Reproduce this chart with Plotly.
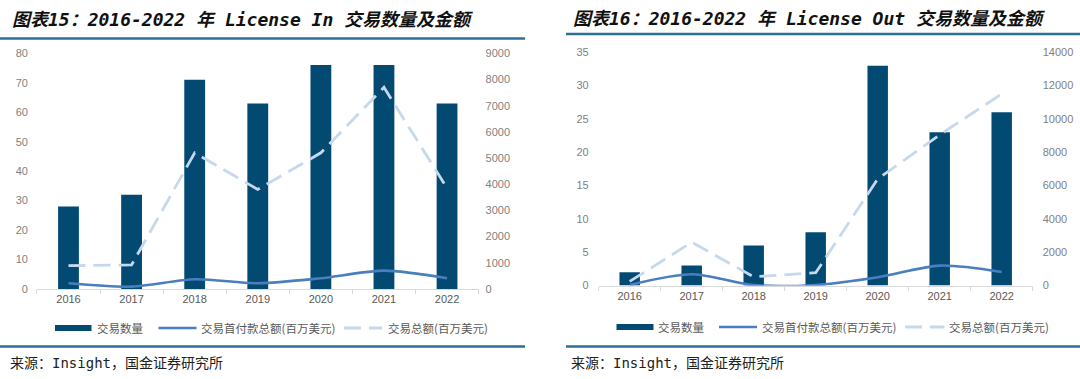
import plotly.graph_objects as go

# ---------------- data ----------------
years = ["2016", "2017", "2018", "2019", "2020", "2021", "2022"]

in_count = [28, 32, 71, 63, 76, 76, 63]
in_upfront = [220, 90, 370, 220, 410, 700, 410]
in_total = [890, 920, 5200, 3800, 5200, 7700, 3850]

out_count = [2, 3, 6, 8, 33, 23, 26]
out_upfront = [40, 680, 30, 40, 500, 1200, 820]
out_total = [250, 2600, 530, 770, 6400, 9050, 11500]

in_left_ticks = [0, 10, 20, 30, 40, 50, 60, 70, 80]
in_right_ticks = [0, 1000, 2000, 3000, 4000, 5000, 6000, 7000, 8000, 9000]
out_left_ticks = [0, 5, 10, 15, 20, 25, 30, 35]
out_right_ticks = [0, 2000, 4000, 6000, 8000, 10000, 12000, 14000]

name_count = "交易数量"
name_upfront = "交易首付款总额(百万美元)"
name_total = "交易总额(百万美元)"

title_in = "图表15：2016-2022 年 License In 交易数量及金额"
title_out = "图表16：2016-2022 年 License Out 交易数量及金额"
source_text = "来源：Insight，国金证券研究所"

# ---------------- style ----------------
W, H = 1080, 379
BAR = "#034a73"
UP = "#4a7ebf"
TOT = "#c6d9ec"
AXIS = "#d9d9d9"
TICKC = "#7f7f7f"
TXT = "#595959"
RULE = "#2f6f93"
FONT = "Liberation Sans, Noto Sans CJK SC, sans-serif"
CJK = "Noto Sans CJK SC, sans-serif"
MONO = "DejaVu Sans Mono, Noto Sans CJK SC, monospace"


def px_x(v):
    return v / W


def px_y(v):
    return 1 - v / H


fig = go.Figure()

# Left chart
fig.add_trace(go.Bar(x=years, y=in_count, name=name_count, marker_color=BAR,
                     width=0.33, xaxis="x", yaxis="y", showlegend=False))
fig.add_trace(go.Scatter(x=years, y=in_upfront, name=name_upfront, mode="lines",
                         line=dict(color=UP, width=2.6, shape="spline", smoothing=0.8),
                         xaxis="x", yaxis="y2", showlegend=False))
fig.add_trace(go.Scatter(x=years, y=in_total, name=name_total, mode="lines",
                         line=dict(color=TOT, width=2.8, dash="17px,8px"),
                         xaxis="x", yaxis="y2", showlegend=False))

# Right chart
fig.add_trace(go.Bar(x=years, y=out_count, name=name_count, marker_color=BAR,
                     width=0.33, xaxis="x2", yaxis="y3", showlegend=False))
fig.add_trace(go.Scatter(x=years, y=out_upfront, name=name_upfront, mode="lines",
                         line=dict(color=UP, width=2.6, shape="spline", smoothing=0.8),
                         xaxis="x2", yaxis="y4", showlegend=False))
fig.add_trace(go.Scatter(x=years, y=out_total, name=name_total, mode="lines",
                         line=dict(color=TOT, width=2.8, dash="17px,8px"),
                         xaxis="x2", yaxis="y4", showlegend=False))

xcommon = dict(type="category", range=[-0.5, 6.5], showline=True, linecolor=AXIS, linewidth=1,
               ticks="outside", tickson="boundaries", ticklen=4, tickcolor=AXIS,
               showgrid=False, zeroline=False, tickfont=dict(family=FONT, size=11, color=TXT),
               fixedrange=True, automargin=False)
ycommon = dict(showgrid=False, zeroline=False, showline=False, ticks="",
               tickformat="d", automargin=False,
               tickfont=dict(family=FONT, size=11, color=TICKC), fixedrange=True)

L_dom_x = [px_x(36.95), px_x(478.6)]
L_dom_y = [px_y(289.0), px_y(53.3)]
R_dom_x = [px_x(598.7), px_x(1032.7)]
R_dom_y = [px_y(285.6), px_y(52.3)]

fig.update_layout(
    template="none",
    width=W, height=H,
    margin=dict(l=0, r=0, t=0, b=0, pad=0, autoexpand=False),
    paper_bgcolor="white", plot_bgcolor="white",
    hovermode=False,
    xaxis=dict(domain=L_dom_x, anchor="y", **xcommon),
    yaxis=dict(domain=L_dom_y, anchor="x", range=[0, 80], tickvals=in_left_ticks,
               ticklabelstandoff=8, **ycommon),
    yaxis2=dict(overlaying="y", side="right", anchor="x", range=[0, 9000],
                tickvals=in_right_ticks, ticklabelstandoff=6, **ycommon),
    xaxis2=dict(domain=R_dom_x, anchor="y3", **xcommon),
    yaxis3=dict(domain=R_dom_y, anchor="x2", range=[0, 35], tickvals=out_left_ticks,
                ticklabelstandoff=9, **ycommon),
    yaxis4=dict(overlaying="y3", side="right", anchor="x2", range=[0, 14000],
                tickvals=out_right_ticks, ticklabelstandoff=9, **ycommon),
)

shapes = []
annotations = []


def add_text(x, y, text, size, color, family=CJK, xanchor="left"):
    annotations.append(dict(x=px_x(x), y=px_y(y), xref="paper", yref="paper",
                            text=text, showarrow=False, xanchor=xanchor, yanchor="middle",
                            font=dict(family=family, size=size, color=color)))


def add_line(x0, x1, y, color, width, dash="solid"):
    shapes.append(dict(type="line", xref="paper", yref="paper",
                       x0=px_x(x0), x1=px_x(x1), y0=px_y(y), y1=px_y(y),
                       line=dict(color=color, width=width, dash=dash)))


def add_legend(yc, bx, lx, dx, tx_bar, tx_line, tx_dash):
    shapes.append(dict(type="rect", xref="paper", yref="paper",
                       x0=px_x(bx[0]), x1=px_x(bx[1]), y0=px_y(yc + 3), y1=px_y(yc - 3),
                       fillcolor=BAR, line=dict(width=0)))
    add_text(tx_bar, yc, name_count, 11.5, TXT)
    add_line(lx[0], lx[1], yc, UP, 2.6)
    add_text(tx_line, yc, name_upfront, 11.5, TXT)
    add_line(dx[0], dx[1], yc, TOT, 2.8, dash="17px,8px")
    add_text(tx_dash, yc, name_total, 11.5, TXT)


# titles
add_text(10, 20, "<b><i>" + title_in + "</i></b>", 18, "#111111", family=MONO)
add_text(571, 18, "<b><i>" + title_out + "</i></b>", 18, "#111111", family=MONO)
add_line(0, 525, 38.5, RULE, 2.5)
add_line(566, 1080, 34, RULE, 2.5)

# legends
add_legend(328, (55, 91.5), (158.5, 196.5), (344, 382), 95, 199, 385.5)
add_legend(327, (616.5, 653.5), (719, 757), (905, 944.5), 656, 760, 947)

# bottom rules and source
add_line(0, 525, 346.5, RULE, 2.5)
add_line(566, 1080, 346.5, RULE, 2.5)
add_text(8, 363, source_text, 14, "#222222", family=MONO)
add_text(569, 363, source_text, 14, "#222222", family=MONO)

fig.update_layout(shapes=shapes, annotations=annotations)

fig.write_html("out.html",
               config={"displayModeBar": False, "staticPlot": True},
               post_script="document.body.style.margin='0';document.body.style.padding='0';"
                           "document.documentElement.style.overflow='hidden';")
